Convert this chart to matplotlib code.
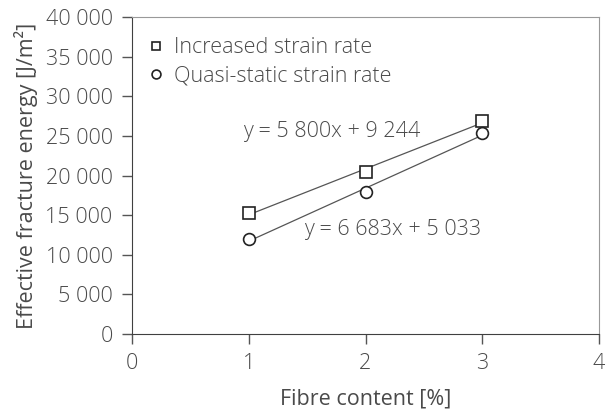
import numpy as np
import matplotlib.pyplot as plt

# fibre content [%] and effective fracture energy [J/m2]
fibre = [1, 2, 3]
increased = [15300, 20400, 26900]
quasi = [12000, 17900, 25300]

# trend lines from the chart
fit_inc = (5800, 9244)
fit_quasi = (6683, 5033)

plt.rcParams['font.family'] = ['Open Sans', 'DejaVu Sans']
plt.rcParams['font.weight'] = 'light'
txt = '#4a4a4a'
fs = 15.5

fig = plt.figure(figsize=(6.11, 4.12), dpi=100)
ax = fig.add_axes([132 / 611, 1 - 334 / 412, 467 / 611, 317 / 412])

xs = np.array([1, 3])
ax.plot(xs, fit_inc[0] * xs + fit_inc[1], color='#555555', lw=0.9, zorder=2)
ax.plot(xs, fit_quasi[0] * xs + fit_quasi[1], color='#555555', lw=0.9, zorder=2)

ax.plot(fibre, increased, 's', ms=8.5, mfc='white', mec='#222222', mew=1.2,
        ls='none', label='Increased strain rate', zorder=3)
ax.plot(fibre, quasi, 'o', ms=8.5, mfc='white', mec='#222222', mew=1.2,
        ls='none', label='Quasi-static strain rate', zorder=3)

ax.text(0.95, 25500, 'y = 5 800x + 9 244', fontsize=fs, color=txt, va='center')
ax.text(1.47, 13150, 'y = 6 683x + 5 033', fontsize=fs, color=txt, va='center')

ax.set_xlim(0, 4)
ax.set_ylim(0, 40000)
ax.set_xticks([0, 1, 2, 3, 4])
yt = np.arange(0, 40001, 5000)
ax.set_yticks(yt)
ax.set_yticklabels([f'{v:,}'.replace(',', ' ') for v in yt])
ax.tick_params(axis='both', labelsize=fs, colors='#555555', labelcolor=txt, length=7, width=1)
ax.tick_params(axis='x', direction='out', pad=7)
ax.tick_params(axis='y', direction='out', pad=7)

for s in ['left', 'bottom']:
    ax.spines[s].set_color('#404040')
for s in ['top', 'right']:
    ax.spines[s].set_color('#999999')

ax.set_xlabel('Fibre content [%]', fontsize=fs, color=txt, labelpad=10)
ax.set_ylabel('Effective fracture energy [J/m²]', fontsize=fs, color=txt, labelpad=5)

ax.legend(loc='upper left', bbox_to_anchor=(-0.019, 1.0), frameon=False,
          fontsize=fs, labelcolor=txt, markerscale=0.75, handletextpad=0.2,
          handlelength=1.2, borderaxespad=0.55, labelspacing=0.35)

fig.savefig('out.png', dpi=100)
